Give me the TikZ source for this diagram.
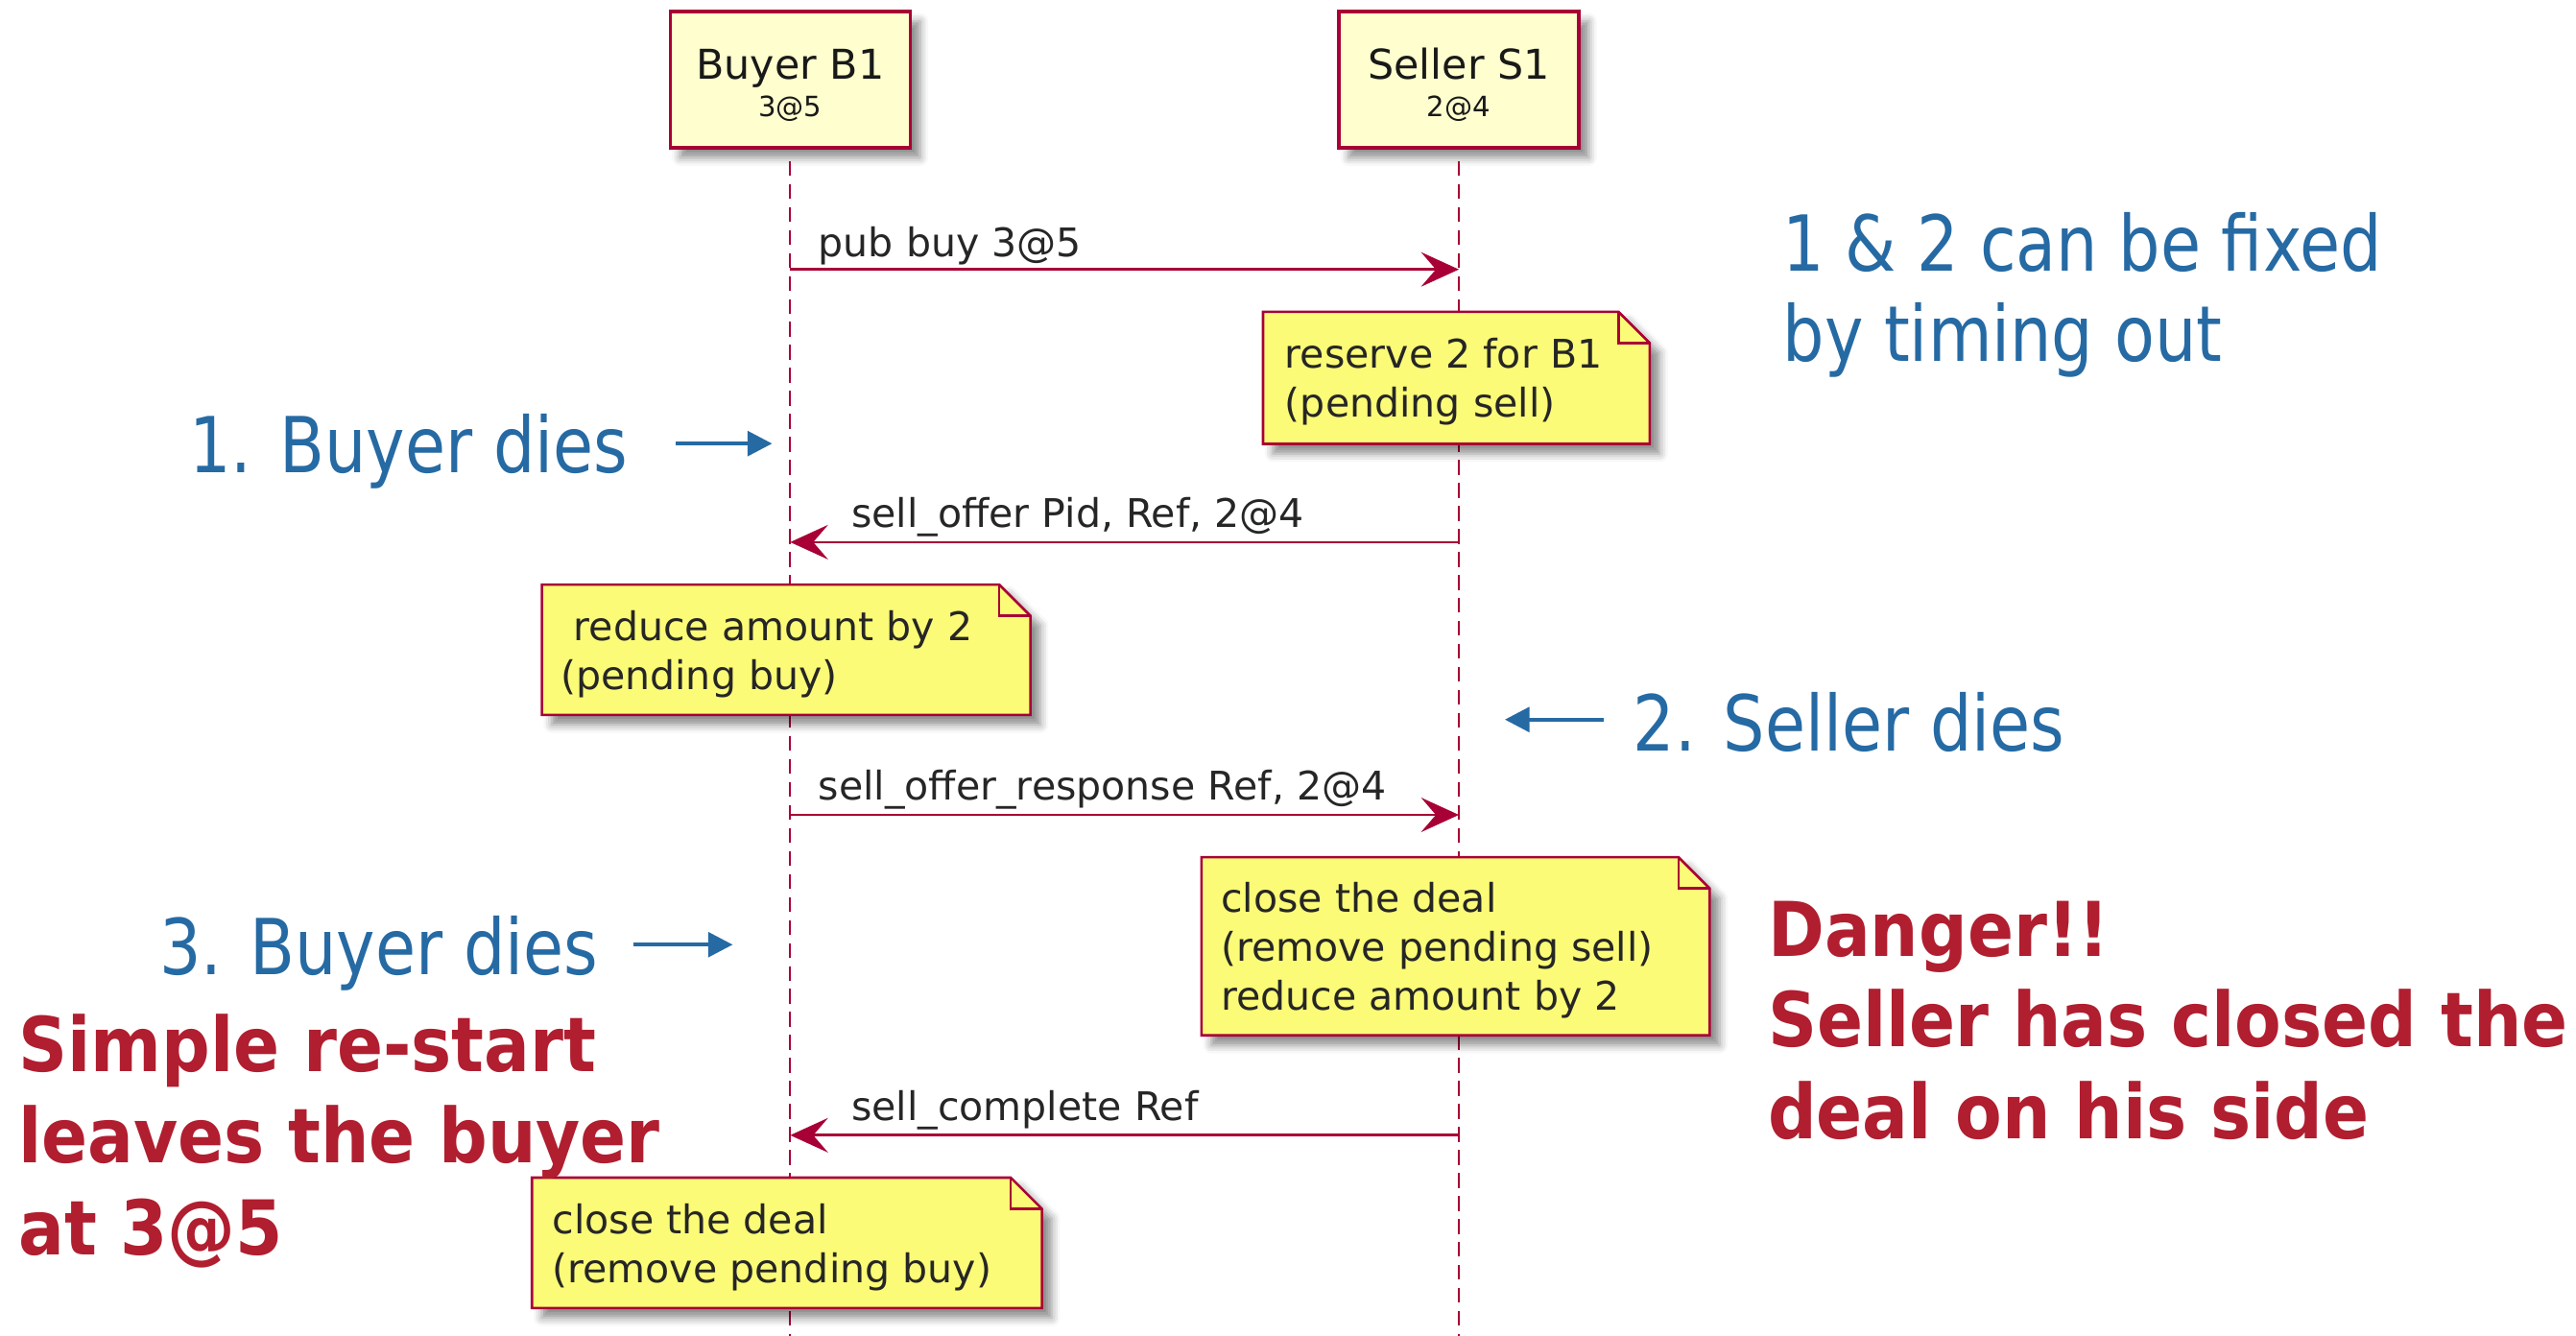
\documentclass[tikz,border=0pt]{standalone}
\usepackage{fontspec}
\setmainfont{DejaVu Sans}
\newfontfamily\annotfont[FakeStretch=0.85]{DejaVu Sans}
\newfontfamily\alertfont[FakeStretch=0.9]{DejaVu Sans}
\usetikzlibrary{arrows.meta,shadows.blur}

\definecolor{umlred}{HTML}{A80036}
\definecolor{partfill}{HTML}{FEFECE}
\definecolor{notefill}{HTML}{FBFB77}
\definecolor{annotblue}{HTML}{266AA4}
\definecolor{alertred}{HTML}{B01E2F}

% outline of a note with a folded top-right corner, drawn round a frame node
\newcommand\umlnote[1]{%
  \filldraw[notebody] (#1.north west) -- ([xshift=-19pt]#1.north east)
    -- ([yshift=-19pt]#1.north east) -- (#1.south east) -- (#1.south west) -- cycle;
  \draw[notefold] ([xshift=-19pt]#1.north east) |- ([yshift=-19pt]#1.north east);
}

\begin{document}
\begin{tikzpicture}[x=1pt,y=-1pt,
  participant/.style={draw=umlred, line width=2pt, fill=partfill,
    minimum width=146pt, minimum height=83pt, inner sep=0pt,
    blur shadow={shadow xshift=6pt, shadow yshift=-6pt, shadow blur radius=5pt, shadow opacity=45}},
  partname/.style={font=\fontsize{25}{27}\selectfont, text=black!90, inner sep=0pt, anchor=base},
  partvalue/.style={font=\fontsize{17}{18}\selectfont, text=black!90, inner sep=0pt, anchor=base},
  lifeline/.style={draw=umlred, line width=1.3pt, dash pattern=on 9pt off 5pt},
  msg/.style={draw=umlred, line width=1.6pt, -{Stealth[length=23pt,width=21pt,inset=9pt]}},
  msglabel/.style={font=\fontsize{24}{28}\selectfont, text=black!85, inner sep=0pt, anchor=base west},
  noteframe/.style={draw=none, inner sep=0pt},
  notetext/.style={font=\fontsize{24}{30}\selectfont, text=black!85, align=left, inner sep=0pt, anchor=base west},
  notebody/.style={fill=notefill, draw=umlred, line width=1.5pt,
    blur shadow={shadow xshift=6pt, shadow yshift=-6pt, shadow blur radius=5pt, shadow opacity=45}},
  notefold/.style={draw=umlred, line width=1.5pt},
  annot/.style={font=\annotfont\fontsize{47}{55}\selectfont, text=annotblue, inner sep=0pt, anchor=base west},
  annotarrow/.style={draw=annotblue, line width=2.4pt, -{Triangle[length=15pt,width=15pt]}},
  alert/.style={font=\alertfont\bfseries\fontsize{46}{55}\selectfont, text=alertred, inner sep=0pt, anchor=base west}
]
\useasboundingbox (0,0) rectangle (1568,813);

% participants
\node[participant] (B) at (481,48.5) {};
\node[partname] (Bname) at (481,48) {Buyer B1};
\node[partvalue] (Bval) at (481,71) {3@5};
\node[participant] (S) at (888,48.5) {};
\node[partname] (Sname) at (888,48) {Seller S1};
\node[partvalue] (Sval) at (888,71) {2@4};

% lifelines
\coordinate (Bend) at (481,813);
\coordinate (Send) at (888,813);
\draw[lifeline] ([yshift=-7pt]B.south) -- (Bend);
\draw[lifeline] ([yshift=-7pt]S.south) -- (Send);

% messages
\coordinate (m1b) at (B.south |- 0,164);
\coordinate (m1s) at (S.south |- 0,164);
\draw[msg] (m1b) -- (m1s);
\node[msglabel] (l1) at (498,156) {pub buy 3@5};

\coordinate (m2s) at (S.south |- 0,330);
\coordinate (m2b) at (B.south |- 0,330);
\draw[msg] (m2s) -- (m2b);
\node[msglabel] (l2) at (518,321) {sell\_offer Pid, Ref, 2@4};

\coordinate (m3b) at (B.south |- 0,496);
\coordinate (m3s) at (S.south |- 0,496);
\draw[msg] (m3b) -- (m3s);
\node[msglabel] (l3) at (498,487) {sell\_offer\_response Ref, 2@4};

\coordinate (m4s) at (S.south |- 0,691);
\coordinate (m4b) at (B.south |- 0,691);
\draw[msg] (m4s) -- (m4b);
\node[msglabel] (l4) at (518,682) {sell\_complete Ref};

% notes: frame, folded outline with shadow, then the text (placed by its last baseline)
\node[noteframe, minimum width=235pt, minimum height=80pt] (nA) at (886.5,230) {};
\umlnote{nA}
\node[notetext] (nAtext) at (782,254) {reserve 2 for B1\\(pending sell)};

\node[noteframe, minimum width=297pt, minimum height=79pt] (nB) at (478.5,395.5) {};
\umlnote{nB}
\node[notetext] (nBtext) at (341,420) {\hspace*{8pt}reduce amount by 2\\(pending buy)};

\node[noteframe, minimum width=309pt, minimum height=108pt] (nC) at (886,576) {};
\umlnote{nC}
\node[notetext] (nCtext) at (743,615) {close the deal\\(remove pending sell)\\reduce amount by 2};

\node[noteframe, minimum width=310pt, minimum height=79pt] (nD) at (479,756.5) {};
\umlnote{nD}
\node[notetext] (nDtext) at (336,781) {close the deal\\(remove pending buy)};

% failure annotations
\node[annot] (t1) at (1085,165) {1 \& 2 can be fixed};
\node[annot] (t2) at (1085,220) {by timing out};

\node[annot] (d1) at (115,288) {1. Buyer dies};
\coordinate (d1tip) at (470,270);
\draw[annotarrow] (d1.east |- d1tip) ++(29,0) -- (d1tip);

\node[annot] (d2) at (994,457) {2. Seller dies};
\coordinate (d2tip) at (916,438);
\draw[annotarrow] (d2.west |- d2tip) ++(-18,0) -- (d2tip);

\node[annot] (d3) at (97,593) {3. Buyer dies};
\coordinate (d3tip) at (446,575);
\draw[annotarrow] (d3.east |- d3tip) ++(21,0) -- (d3tip);

% consequences
\node[alert] (r1) at (1076,582) {Danger!!};
\node[alert] (r2) at (1076,637) {Seller has closed the};
\node[alert] (r3) at (1076,693) {deal on his side};

\node[alert] (s1) at (11,652) {Simple re-start};
\node[alert] (s2) at (11,708) {leaves the buyer};
\node[alert] (s3) at (11,764) {at 3@5};
\end{tikzpicture}
\end{document}
